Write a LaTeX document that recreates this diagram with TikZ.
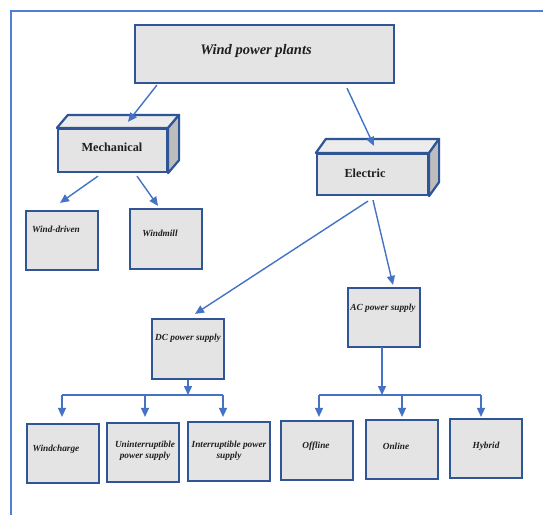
\documentclass[tikz,border=0pt]{standalone}
\usepackage{fontspec}
\setmainfont{Liberation Serif}
\usetikzlibrary{calc,arrows.meta}
\definecolor{boxblue}{HTML}{2F5597}
\definecolor{arrblue}{HTML}{4472C4}
\definecolor{frameblue}{HTML}{4F7FD3}
\definecolor{boxgray}{HTML}{E4E4E4}
\definecolor{topgray}{HTML}{ECECEC}
\definecolor{sidegray}{HTML}{BDBDBD}
\tikzset{
  box/.style={draw=boxblue,fill=boxgray,line width=2.2pt,inner sep=0pt,rectangle},
  face/.style={draw=boxblue,line width=2.2pt,line join=round},
  conn/.style={draw=arrblue,line width=1.4pt},
  arr/.style={conn,-{Triangle[length=9pt,width=8pt]}},
  small/.style={font=\fontsize{9.3}{11}\selectfont\bfseries\itshape,text=black!88,align=center,inner sep=0pt},
}
\begin{document}
\begin{tikzpicture}[x=1pt,y=-1pt]
\useasboundingbox (0,0) rectangle (543,515);
\fill[white] (0,0) rectangle (543,515);
% frame
\draw[frameblue,line width=2pt] (11,515) -- (11,10.5) -- (543,10.5);

% top
\node[box,minimum width=259pt,minimum height=58pt] (top) at (264.5,54) {};
\node[font=\fontsize{14.5}{16}\selectfont\bfseries\itshape,text=black!88,inner sep=0pt] (ttop) at (256,51) {Wind power plants};

% mechanical 3D box
\node[box,minimum width=109pt,minimum height=43pt] (mech) at (112.5,150.5) {};
\draw[face,fill=topgray] (mech.north west) -- ++(11,-13) -- ($(mech.north east)+(11,-13)$) -- (mech.north east) -- cycle;
\draw[face,fill=sidegray] (mech.north east) -- ++(11,-13) -- ($(mech.south east)+(11,-13)$) -- (mech.south east) -- cycle;
\node[font=\fontsize{12.3}{14}\selectfont\bfseries,text=black!88,inner sep=0pt] (tmech) at (112,147) {Mechanical};

% electric 3D box
\node[box,minimum width=111pt,minimum height=41pt] (elec) at (372.5,174.5) {};
\draw[face,fill=topgray] (elec.north west) -- ++(10,-14) -- ($(elec.north east)+(10,-14)$) -- (elec.north east) -- cycle;
\draw[face,fill=sidegray] (elec.north east) -- ++(10,-14) -- ($(elec.south east)+(10,-14)$) -- (elec.south east) -- cycle;
\node[font=\fontsize{12.3}{14}\selectfont\bfseries,text=black!88,inner sep=0pt] (telec) at (365,173) {Electric};

% second level
\node[box,minimum width=72pt,minimum height=59pt] (wd) at (62,240.5) {};
\node[small] (twd) at (56,229) {Wind-driven};
\node[box,minimum width=72pt,minimum height=60pt] (wm) at (166,239) {};
\node[small] (twm) at (160,233) {Windmill};
\node[box,minimum width=72pt,minimum height=60pt] (dc) at (188,349) {};
\node[small] (tdc) at (188,338) {DC power supply};
\node[box,minimum width=72pt,minimum height=59pt] (ac) at (384,317.5) {};
\node[small] (tac) at (383,308) {AC power supply};

% bottom level
\node[box,minimum width=72pt,minimum height=59pt] (wc) at (63,453.5) {};
\node[small] (twc) at (56,449) {Windcharge};
\node[box,minimum width=72pt,minimum height=59pt] (ups) at (143,452.5) {};
\node[small] (tups) at (145,450.5) {Uninterruptible\\power supply};
\node[box,minimum width=82pt,minimum height=59pt] (ips) at (229,451.5) {};
\node[small] (tips) at (229,450.5) {Interruptible power\\supply};
\node[box,minimum width=72pt,minimum height=59pt] (off) at (317,450.5) {};
\node[small] (toff) at (316,446) {Offline};
\node[box,minimum width=72pt,minimum height=59pt] (on) at (402,449.5) {};
\node[small] (ton) at (396,446) {Online};
\node[box,minimum width=72pt,minimum height=59pt] (hyb) at (486,448.5) {};
\node[small] (thyb) at (486,446) {Hybrid};

% connectors
\draw[arr] ($(top.south west)+(23,1)$) -- ($(mech.north)+(15.5,-6)$);
\draw[arr] ($(top.south)+(82.5,4)$) -- ($(elec.north)+(1.5,-7)$);
\draw[arr] ($(mech.south)+(-14.5,3)$) -- ($(wd.north)+(-2,-7)$);
\draw[arr] ($(mech.south)+(24.5,3)$) -- ($(wm.north)+(-8,-2)$);
\draw[arr] ($(elec.south)+(-4.5,5)$) -- ($(dc.north)+(7,-4)$);
\draw[arr] ($(elec.south)+(0.5,4)$) -- ($(ac.north)+(9,-2)$);

% DC bus
\coordinate (dl) at (62,395);
\coordinate (dm) at (145,395);
\coordinate (dr) at (223,395);
\draw[arr] (dc.south) -- (dc.south |- dl);
\draw[conn] (dl) -- (dr);
\draw[arr,shorten >=6pt] (dl) -- (dl |- wc.north);
\draw[arr,shorten >=5pt] (dm) -- (dm |- ups.north);
\draw[arr,shorten >=4pt] (dr) -- (dr |- ips.north);

% AC bus
\coordinate (al) at (319,395);
\coordinate (am) at (402,395);
\coordinate (ar) at (481,395);
\coordinate (acb) at (382,347);
\draw[arr] (acb) -- (acb |- al);
\draw[conn] (al) -- (ar);
\draw[arr,shorten >=3pt] (al) -- (al |- off.north);
\draw[arr,shorten >=2pt] (am) -- (am |- on.north);
\draw[arr,shorten >=1pt] (ar) -- (ar |- hyb.north);
\end{tikzpicture}
\end{document}
